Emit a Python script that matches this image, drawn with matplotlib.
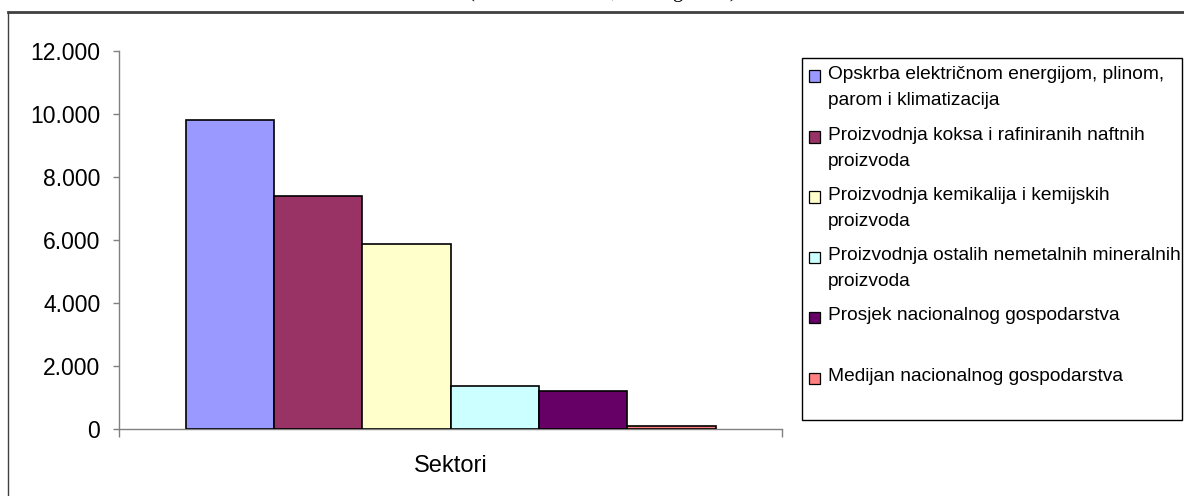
import numpy as np
import matplotlib
matplotlib.use("Agg")
import matplotlib.pyplot as plt
from matplotlib.patches import Rectangle
from matplotlib.lines import Line2D
from matplotlib.ticker import FuncFormatter

plt.rcParams["font.family"] = ["Liberation Sans", "DejaVu Sans"]

W, H = 1184, 496

sectors = [
    "Opskrba električnom energijom, plinom,\nparom i klimatizacija",
    "Proizvodnja koksa i rafiniranih naftnih\nproizvoda",
    "Proizvodnja kemikalija i kemijskih\nproizvoda",
    "Proizvodnja ostalih nemetalnih mineralnih\nproizvoda",
    "Prosjek nacionalnog gospodarstva",
    "Medijan nacionalnog gospodarstva",
]
values = [9810, 7400, 5870, 1380, 1210, 110]
colors = ["#9999FF", "#993366", "#FFFFCC", "#CCFFFF", "#660066", "#FF8080"]
yticks = [0, 2000, 4000, 6000, 8000, 10000, 12000]
xlabel = "Sektori"
title = "(u tisućama kuna, 2011. godina)"


def fx(px):
    return px / W


def fy(py):
    return 1 - py / H


fig = plt.figure(figsize=(W / 100, H / 100), dpi=100)

# outer chart frame (partly cut off in the original)
fig.add_artist(Line2D([fx(8), fx(8)], [fy(12), 0], color="#404040", lw=1.0))
fig.add_artist(Line2D([fx(8), 1], [fy(12), fy(12)], color="#404040", lw=2.0))
# title sits above the crop, only its descenders show
fig.text(fx(602), fy(-3.5), title, ha="center", va="baseline",
         family="Liberation Serif", fontsize=15)

ax = fig.add_axes([fx(119), fy(429), fx(782) - fx(119), fy(51) - fy(429)])

n = len(values)
group = 530 / 663
bw = group / n
xs = -group / 2 + bw / 2 + np.arange(n) * bw
ax.bar(xs, values, width=bw, color=colors, edgecolor="black", linewidth=1.2,
       zorder=3)

ax.set_xlim(-0.5, 0.5)
ax.set_ylim(0, 12000)
ax.set_yticks(yticks)
ax.yaxis.set_major_formatter(FuncFormatter(lambda v, p: f"{int(v):,}".replace(",", ".")))
ax.set_xticks([-0.5, 0.5])
ax.set_xticklabels([])
ax.tick_params(axis="y", length=4.5, width=1, color="#808080", pad=9,
               labelsize=16.5)
ax.tick_params(axis="x", length=6, width=1, color="#808080")
for s in ["top", "right"]:
    ax.spines[s].set_visible(False)
for s in ["left", "bottom"]:
    ax.spines[s].set_color("#808080")
    ax.spines[s].set_linewidth(1.0)
ax.set_xlabel(xlabel, fontsize=17, labelpad=9)

# legend box drawn by hand so each entry keeps Excel's even spacing
fig.add_artist(Rectangle((fx(802), fy(420)), fx(1182) - fx(802), fy(58) - fy(420),
                         transform=fig.transFigure, facecolor="none",
                         edgecolor="black", lw=1.0))
rows = [76, 137, 197, 257, 317, 378]
for lab, col, ry in zip(sectors, colors, rows):
    fig.add_artist(Rectangle((fx(809), fy(ry + 5.5)), fx(11), 11 / H,
                             transform=fig.transFigure, facecolor=col,
                             edgecolor="black", lw=0.9))
    fig.text(fx(828), fy(ry - 10), lab, ha="left", va="top", fontsize=13.8,
             linespacing=1.7)

fig.savefig("out.png", dpi=100)
